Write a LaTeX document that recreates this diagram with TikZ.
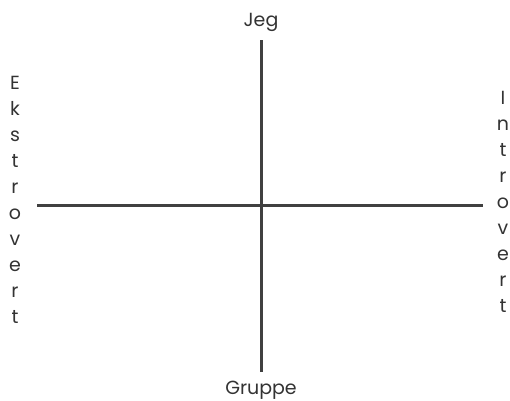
\documentclass[tikz,border=0pt]{standalone}
\usepackage{fontspec}
\setmainfont{Poppins}
\definecolor{ink}{HTML}{333333}
\definecolor{axisgray}{HTML}{404040}
\begin{document}
\begin{tikzpicture}[x=1pt,y=-1pt,
  axis/.style={draw=axisgray,line width=3pt},
  lbl/.style={text=ink,font=\fontsize{19}{22}\selectfont,inner sep=0pt},
  vlbl/.style={text=ink,font=\fontsize{19}{26}\selectfont,inner sep=0pt,align=center}]
\useasboundingbox (0,0) rectangle (510,400);
\coordinate (top) at (261,40);
\coordinate (bot) at (261,372);
\coordinate (lft) at (37,205);
\coordinate (rgt) at (483,205);
\draw[axis] (top) -- (bot);
\draw[axis] (lft) -- (rgt);
\node[lbl] (jeg) at (261,22) {Jeg};
\node[lbl] (gruppe) at (261,390) {Gruppe};
\node[vlbl,anchor=north] (eks) at (15,76) {E\\k\\s\\t\\r\\o\\v\\e\\r\\t};
\node[vlbl,anchor=north] (intro) at (503,91) {I\\n\\t\\r\\o\\v\\e\\r\\t};
\end{tikzpicture}
\end{document}
